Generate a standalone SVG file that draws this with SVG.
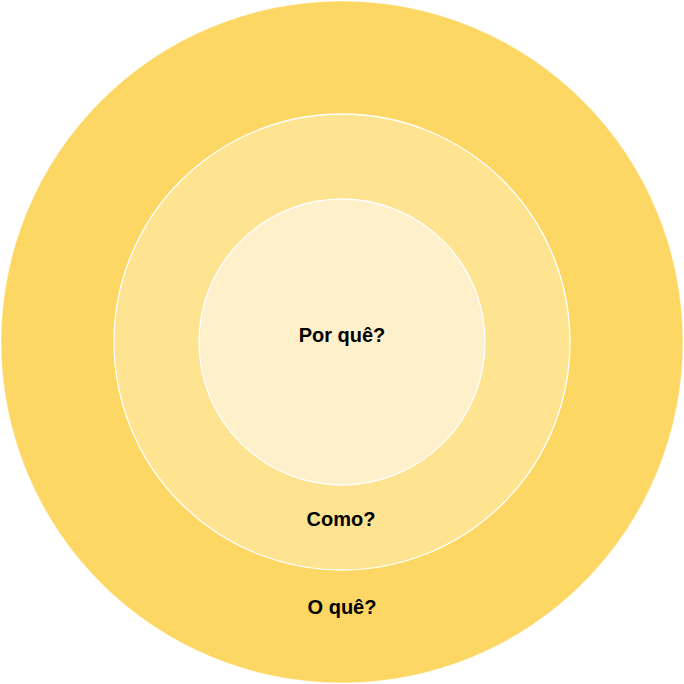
<svg xmlns="http://www.w3.org/2000/svg" width="684" height="684" viewBox="0 0 684 684">
<style>
.lbl{font-family:"Liberation Sans",Arial,sans-serif;font-weight:bold;font-size:20px;fill:#000;text-anchor:middle}
.ring{stroke:#ffffff;stroke-width:1.3}
</style>
<rect width="684" height="684" fill="#ffffff"/>
<g id="outer">
<circle cx="342" cy="342" r="341" fill="#FDD764" stroke="#ffffff" stroke-width="0.5"/>
<text class="lbl" x="342" y="614">O quê?</text>
</g>
<g id="middle">
<circle class="ring" cx="342" cy="342" r="228" fill="#FEE391"/>
<text class="lbl" x="341" y="526">Como?</text>
</g>
<g id="inner">
<circle class="ring" cx="342" cy="342" r="143" fill="#FFF0CC"/>
<text class="lbl" x="342" y="342">Por quê?</text>
</g>
<g id="connectors"></g>
</svg>
